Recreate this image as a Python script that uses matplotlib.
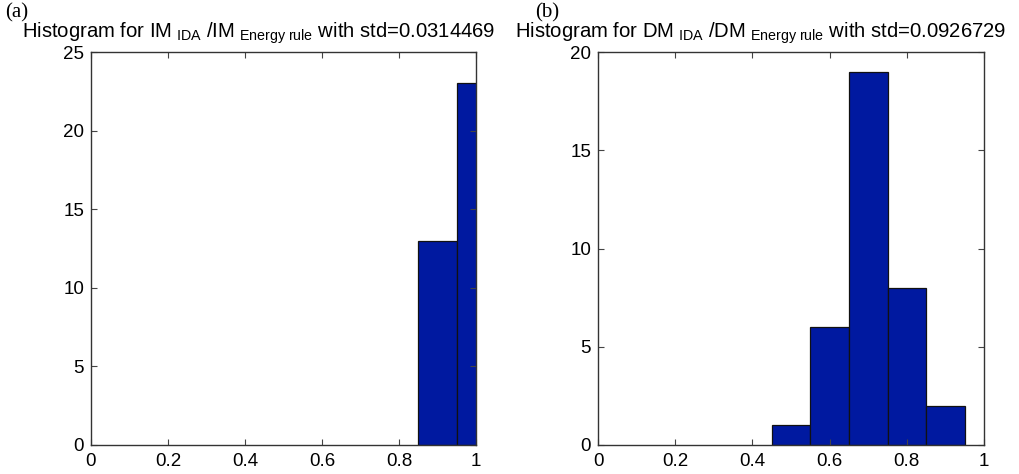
import numpy as np
import matplotlib.pyplot as plt

plt.rcParams['font.family'] = ['Liberation Sans', 'DejaVu Sans']
plt.rcParams['mathtext.fontset'] = 'custom'
plt.rcParams['mathtext.rm'] = 'Liberation Sans'
plt.rcParams['mathtext.it'] = 'Liberation Sans'

# bin centres and counts
im_centers = [0.9, 1.0]
im_counts = [13, 23]
dm_centers = [0.5, 0.6, 0.7, 0.8, 0.9]
dm_counts = [1, 6, 19, 8, 2]
bin_width = 0.1

x_ticks = [0, 0.2, 0.4, 0.6, 0.8, 1]
x_labels = ['0', '0.2', '0.4', '0.6', '0.8', '1']

panels = [
    ('(a)', 'IM', '0.0314469', im_centers, im_counts, 25),
    ('(b)', 'DM', '0.0926729', dm_centers, dm_counts, 20),
]

W, H = 1020, 474
fig = plt.figure(figsize=(W / 100, H / 100), dpi=100)
positions = [[0.0892, 0.0612, 0.3775, 0.829], [0.5863, 0.0612, 0.3784, 0.829]]
title_x = [22, 515]
tag_x = [5, 535]
bar_color = '#0019A0'

for pos, tx, gx, (tag, name, std, centers, counts, ymax) in zip(positions, title_x, tag_x, panels):
    ax = fig.add_axes(pos)
    ax.bar(centers, counts, width=bin_width, color=bar_color, edgecolor='#111111', linewidth=0.9)
    ax.set_xlim(0, 1)
    ax.set_ylim(0, ymax)
    ax.set_xticks(x_ticks)
    ax.set_xticklabels(x_labels)
    ax.set_yticks(np.arange(0, ymax + 1, 5))
    ax.tick_params(direction='in', top=True, right=True, labelsize=13.5, length=4, width=0.8, color='#444444')
    ax.tick_params(axis='x', pad=6)
    ax.tick_params(axis='y', pad=5)
    for sp in ax.spines.values():
        sp.set_color('#333333')
        sp.set_linewidth(1.0)
    title = (f'Histogram for {name}$\\;_{{\\rm IDA}}$ /{name}$\\;_{{\\rm Energy\\ rule}}$'
             f' with std={std}')
    fig.text(tx / W, 1 - 38 / H, title, fontsize=14.6, ha='left', va='baseline')
    fig.text(gx / W, 1 - 3 / H, tag, fontsize=15, family='Liberation Serif', ha='left', va='top')

fig.savefig('out.png', dpi=100)
